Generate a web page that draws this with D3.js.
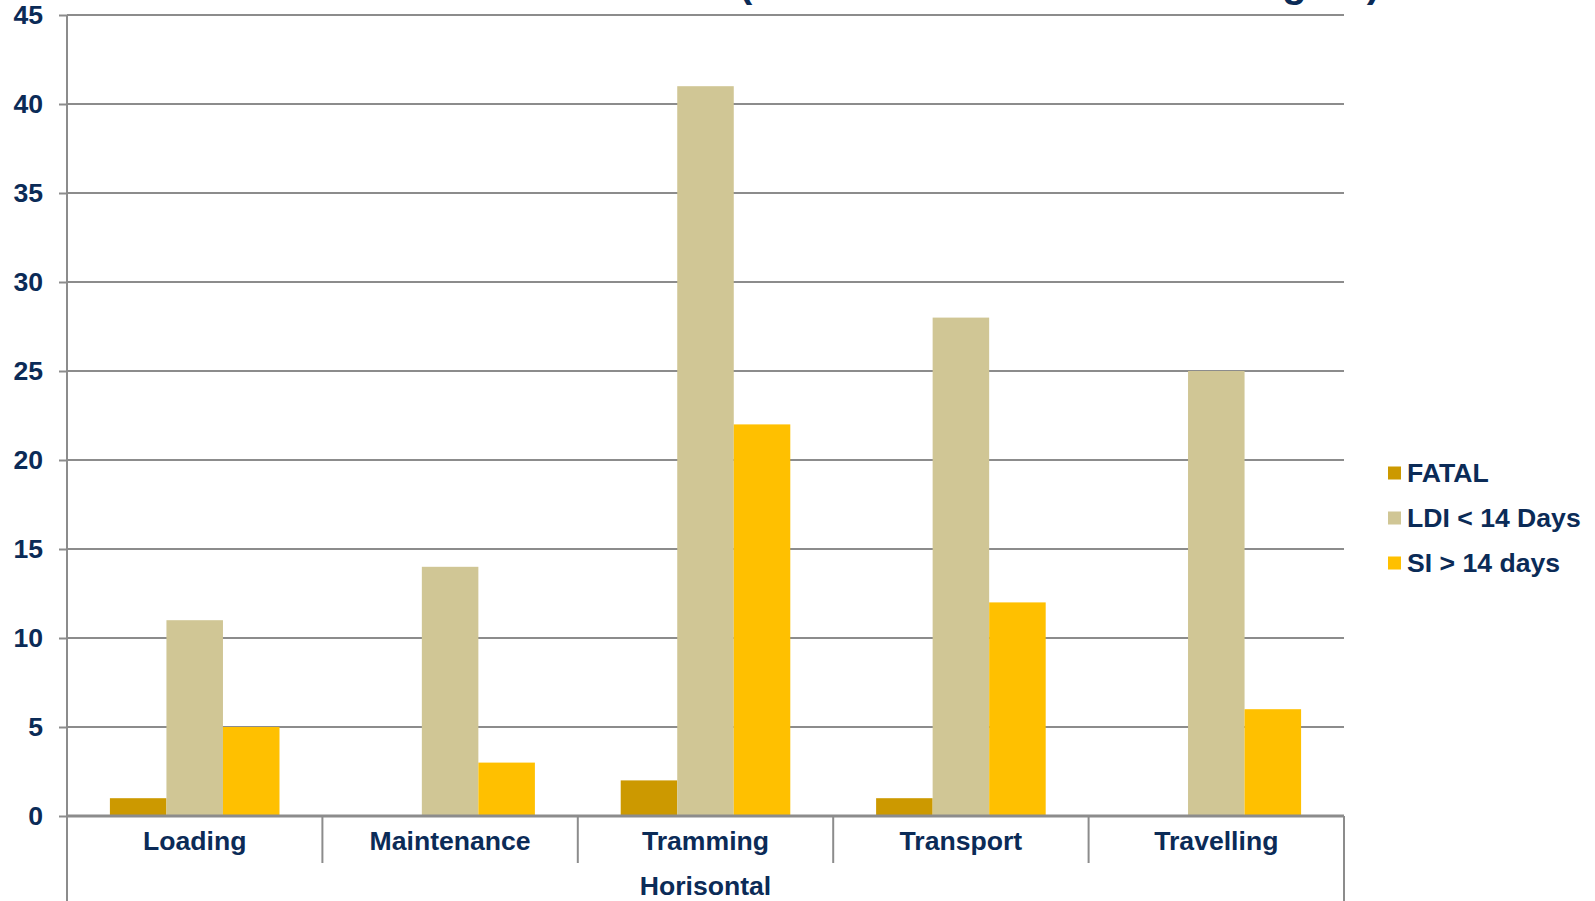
<!DOCTYPE html>
<html>
<head>
<meta charset="utf-8">
<script src="https://cdn.jsdelivr.net/npm/d3@7"></script>
<style>
  html, body { margin: 0; padding: 0; background: #fff; }
  text { font-family: "Liberation Sans", Arial, sans-serif; font-weight: bold; fill: #0b2b57; }
</style>
</head>
<body>
<div id="chart"></div>
<script>
const categories = ["Loading", "Maintenance", "Tramming", "Transport", "Travelling"];
const groupLabel = "Horisontal";
const series = ["FATAL", "LDI < 14 Days", "SI > 14 days"];
const fatal = [1, 0, 2, 1, 0];
const ldi = [11, 14, 41, 28, 25];
const si = [5, 3, 22, 12, 6];
const yTicks = [0, 5, 10, 15, 20, 25, 30, 35, 40, 45];
const colors = ["#cc9900", "#d0c695", "#ffc000"];
const titleText = "Horisontal Incidents (From 1 March 2010 to 31 August)";

const values = [fatal, ldi, si];
const data = categories.map((c, i) => ({ cat: c, vals: values.map(v => v[i]) }));

const W = 1595, H = 901;
const margin = { left: 67, right: 251, top: 15, bottom: 85 };
const fontSize = "26.6px";

const svg = d3.select("#chart").append("svg")
    .attr("width", W)
    .attr("height", H);

const x0 = d3.scaleBand()
    .domain(categories)
    .range([margin.left, W - margin.right])
    .padding(0);

const x1 = d3.scaleBand()
    .domain(d3.range(series.length))
    .range([x0.bandwidth() * 0.168, x0.bandwidth() * 0.832])
    .padding(0);

const y = d3.scaleLinear()
    .domain([0, 45])
    .range([H - margin.bottom, margin.top]);

// title (mostly above the visible area)
svg.append("text")
    .attr("x", 1380)
    .attr("y", -3)
    .attr("text-anchor", "end")
    .style("font-size", "40px")
    .text(titleText);

// gridlines
svg.append("g")
    .selectAll("line")
    .data(yTicks.filter(t => t > 0))
    .join("line")
    .attr("x1", margin.left)
    .attr("x2", W - margin.right)
    .attr("y1", d => y(d))
    .attr("y2", d => y(d))
    .attr("stroke", "#8c8c8c")
    .attr("stroke-width", 2);

// y axis
const yAxis = svg.append("g")
    .attr("transform", `translate(${margin.left},0)`)
    .call(d3.axisLeft(y).tickValues(yTicks).tickSize(8).tickPadding(16));
yAxis.select(".domain").remove();
yAxis.selectAll(".tick line").attr("stroke", "#8c8c8c").attr("stroke-width", 2);
yAxis.selectAll(".tick text")
    .style("font-size", fontSize)
    .style("font-family", "Liberation Sans, Arial, sans-serif")
    .attr("fill", "#0b2b57");

// bars
const groups = svg.append("g")
    .selectAll("g")
    .data(data)
    .join("g")
    .attr("transform", d => `translate(${x0(d.cat)},0)`);

groups.selectAll("rect")
    .data(d => d.vals)
    .join("rect")
    .attr("x", (d, i) => x1(i))
    .attr("width", x1.bandwidth())
    .attr("y", d => y(d))
    .attr("height", d => y(0) - y(d))
    .attr("fill", (d, i) => colors[i]);

// left axis line, running down past the labels
svg.append("line")
    .attr("x1", margin.left).attr("x2", margin.left)
    .attr("y1", margin.top).attr("y2", H)
    .attr("stroke", "#8c8c8c").attr("stroke-width", 2);

svg.append("line")
    .attr("x1", W - margin.right).attr("x2", W - margin.right)
    .attr("y1", y(0)).attr("y2", H)
    .attr("stroke", "#8c8c8c").attr("stroke-width", 2);

// x axis
const xAxis = svg.append("g")
    .attr("transform", `translate(0,${y(0)})`)
    .call(d3.axisBottom(x0).tickSize(0).tickPadding(15));
xAxis.select(".domain")
    .attr("d", `M${margin.left},0H${W - margin.right}`)
    .attr("stroke", "#8c8c8c").attr("stroke-width", 3);
xAxis.selectAll(".tick text")
    .style("font-size", fontSize)
    .style("font-family", "Liberation Sans, Arial, sans-serif")
    .attr("fill", "#0b2b57");

// category dividers
svg.append("g")
    .selectAll("line")
    .data(categories.slice(1))
    .join("line")
    .attr("x1", d => x0(d)).attr("x2", d => x0(d))
    .attr("y1", y(0)).attr("y2", y(0) + 47)
    .attr("stroke", "#8c8c8c").attr("stroke-width", 2);

svg.append("text")
    .attr("x", (margin.left + W - margin.right) / 2)
    .attr("y", 895)
    .attr("text-anchor", "middle")
    .style("font-size", fontSize)
    .text(groupLabel);

// legend
const legend = svg.append("g")
    .selectAll("g")
    .data(series)
    .join("g")
    .attr("transform", (d, i) => `translate(1388,${473 + i * 45})`);

legend.append("rect")
    .attr("x", 0).attr("y", -6.5)
    .attr("width", 13).attr("height", 13)
    .attr("fill", (d, i) => colors[i]);

legend.append("text")
    .attr("x", 19)
    .attr("y", 9)
    .style("font-size", fontSize)
    .text(d => d);
</script>
</body>
</html>
